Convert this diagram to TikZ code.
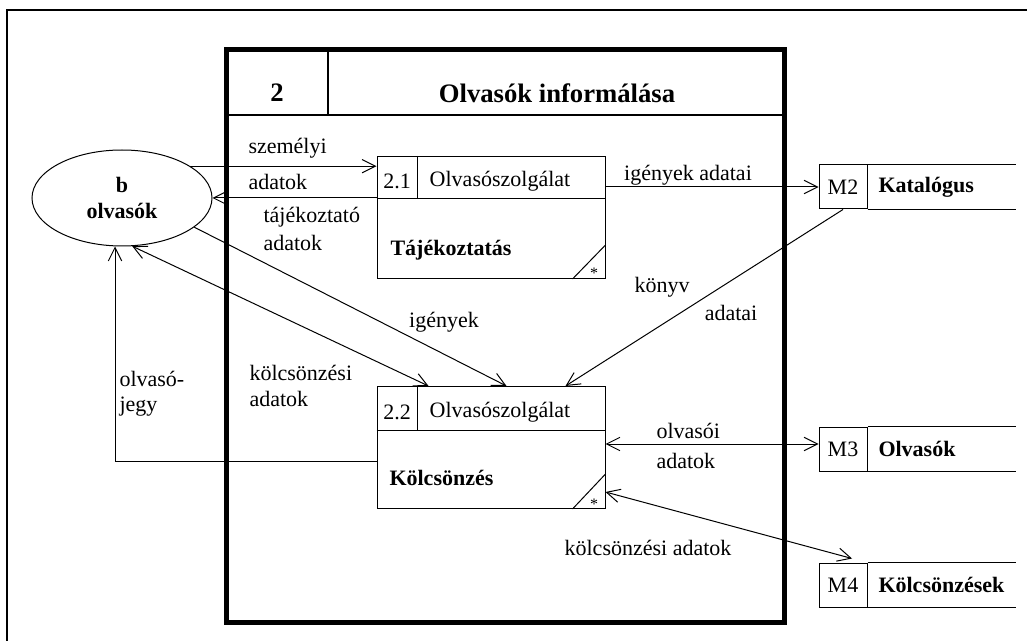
\documentclass[tikz,border=0pt]{standalone}
\usepackage{fontspec}
\setmainfont{Liberation Serif}
\usetikzlibrary{arrows.meta,calc,shapes.geometric}

\tikzset{every picture/.style={line width=0.75pt}}
\tikzset{
  lbl/.style={inner sep=0.75pt,font=\fontsize{16.5}{20}\selectfont},
  blbl/.style={inner sep=0.75pt,font=\fontsize{16.5}{20}\selectfont\bfseries},
  flow/.style={-{Straight Barb[length=10pt,width=10pt]}},
  biflow/.style={{Straight Barb[length=10pt,width=10pt]}-{Straight Barb[length=10pt,width=10pt]}},
  procbox/.style={draw,rectangle,inner sep=0pt,minimum width=171pt,minimum height=91.5pt},
  storecell/.style={draw,rectangle,inner sep=0pt,minimum width=36pt,minimum height=33pt,font=\fontsize{16.5}{20}\selectfont},
}

\begin{document}
\begin{tikzpicture}[x=0.75pt,y=0.75pt,yscale=-1,xscale=1]
\useasboundingbox (0,0) rectangle (1027,641);
% Frame
\draw[line width=1.5pt] (7,641) -- (7,10) -- (1027,10);
% Shape: Rectangle
\draw[line width=3.75pt] (226,50) rectangle (784,622);
\draw[line width=1.5pt] (226,115) -- (784,115);
\draw[line width=1.5pt] (328,50) -- (328,115);
% Text Node
\node[inner sep=0.75pt,font=\fontsize{20}{24}\selectfont\bfseries] (pnum) at (277,93) {2};
\node[inner sep=0.75pt,font=\fontsize{20}{24}\selectfont\bfseries] (ptitle) at (557,93) {Olvasók informálása};

% Shape: Ellipse
\node[blbl,draw,ellipse,inner sep=0pt,minimum width=135pt,minimum height=72pt,align=center] (olv) at (122,198) {b\\olvasók};

% Shape: Rectangle
\node[procbox] (p21) at (491,217.5) {};
\draw ($(p21.north west)+(0,43)$) -- ($(p21.north east)+(0,43)$);
\draw ($(p21.north west)+(41,0)$) -- ($(p21.north west)+(41,43)$);
\draw ($(p21.south east)+(-33,0)$) -- ($(p21.south east)+(0,-34)$);
\node[lbl] (p21id) at (397,181) {2.1};
\node[lbl] (p21who) at (500,181) {Olvasószolgálat};
\node[blbl,anchor=west] (p21name) at (389,250) {Tájékoztatás};
\node[inner sep=0pt,font=\fontsize{12}{14}\selectfont] (p21star) at (594,273) {*};

% Shape: Rectangle
\node[procbox] (p22) at (491,447.5) {};
\draw ($(p22.north west)+(0,44)$) -- ($(p22.north east)+(0,44)$);
\draw ($(p22.north west)+(41,0)$) -- ($(p22.north west)+(41,44)$);
\draw ($(p22.south east)+(-33,0)$) -- ($(p22.south east)+(0,-35)$);
\node[lbl] (p22id) at (397,412) {2.2};
\node[lbl] (p22who) at (500,412) {Olvasószolgálat};
\node[blbl,anchor=west] (p22name) at (388,478) {Kölcsönzés};
\node[inner sep=0pt,font=\fontsize{12}{14}\selectfont] (p22star) at (594,504) {*};

% Data stores
\node[storecell] (m2) at (843,187) {M2};
\draw (m2.north east) -- ++(148,0);
\draw (m2.south east) -- ++(148,0);
\node[blbl,anchor=west] (m2name) at (877,187) {Katalógus};

\node[storecell] (m3) at (843,449) {M3};
\draw (m3.north east) -- ++(148,0);
\draw (m3.south east) -- ++(148,0);
\node[blbl,anchor=west] (m3name) at (877,449) {Olvasók};

\node[storecell] (m4) at (843,585) {M4};
\draw (m4.north east) -- ++(148,0);
\draw (m4.south east) -- ++(148,0);
\node[blbl,anchor=west] (m4name) at (877,585) {Kölcsönzések};

% Straight Lines
\coordinate (m3in) at ($(m3.west)+(0,-5)$);
\draw[flow] (olv.25) -- (olv.25 -| p21.west);
\draw[flow] (olv.east -| p21.west) -- (olv.east);
\draw[flow] (m2.west -| p21.east) -- (m2.west);
\draw[flow] (m2.south) -- ($(p22.north east)+(-40,0)$);
\draw[flow] (olv.-22) -- ($(p22.north west)+(130,0)$);
\draw[biflow] (olv.-78) -- ($(p22.north west)+(52,0)$);
\draw[flow] ($(p22.west)+(0,14)$) -| ($(olv.south)+(-7,0)$);
\draw[biflow] (m3in -| p22.east) -- (m3in);
\draw[biflow] ($(p22.south east)+(0,-17)$) -- ($(m4.north)+(9,-4)$);

% Text Node
\node[lbl,anchor=west] (l1a) at (247,148) {személyi};
\node[lbl,anchor=west] (l1b) at (247,182) {adatok};
\node[lbl,anchor=west] (l2a) at (262,217) {tájékoztató};
\node[lbl,anchor=west] (l2b) at (262,243) {adatok};
\node[lbl] (l3) at (688,175) {igények adatai};
\node[lbl] (l4a) at (662,287) {könyv};
\node[lbl] (l4b) at (731,313) {adatai};
\node[lbl] (l5) at (444,322) {igények};
\node[lbl,anchor=west] (l6a) at (248,373) {kölcsönzési};
\node[lbl,anchor=west] (l6b) at (248,399) {adatok};
\node[lbl,anchor=west] (l7a) at (118,379) {olvasó-};
\node[lbl,anchor=west] (l7b) at (118,407) {jegy};
\node[lbl,anchor=west] (l8a) at (655,431) {olvasói};
\node[lbl,anchor=west] (l8b) at (655,461) {adatok};
\node[lbl] (l9) at (648,548) {kölcsönzési adatok};
\end{tikzpicture}
\end{document}
